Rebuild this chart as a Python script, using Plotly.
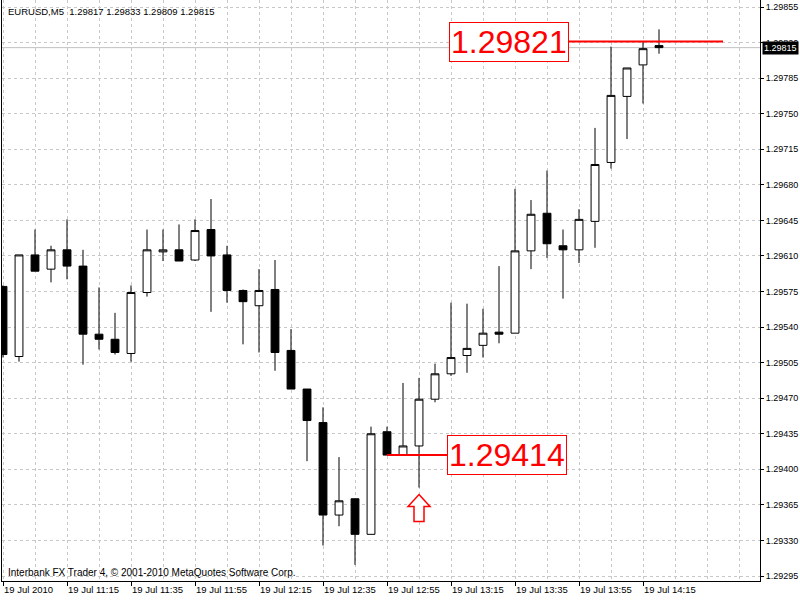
import plotly.graph_objects as go

# ---------- data (EURUSD M5, 19 Jul 2010) ----------
day = "2010-07-19 "
times = ["10:55", "11:00", "11:05", "11:10", "11:15", "11:20", "11:25", "11:30",
         "11:35", "11:40", "11:45", "11:50", "11:55", "12:00", "12:05", "12:10",
         "12:15", "12:20", "12:25", "12:30", "12:35", "12:40", "12:45", "12:50",
         "12:55", "13:00", "13:05", "13:10", "13:15", "13:20", "13:25", "13:30",
         "13:35", "13:40", "13:45", "13:50", "13:55", "14:00", "14:05", "14:10",
         "14:15", "14:20"]
opens = [1.29580, 1.29511, 1.29611, 1.29597, 1.29616, 1.29600, 1.29533, 1.29528,
         1.29514, 1.29574, 1.29614, 1.29616, 1.29606, 1.29636, 1.29611, 1.29576,
         1.29561, 1.29577, 1.29517, 1.29479, 1.29446, 1.29355, 1.29371, 1.29336,
         1.29437, 1.29414, 1.29423, 1.29469, 1.29494, 1.29512, 1.29522, 1.29535,
         1.29534, 1.29615, 1.29652, 1.29620, 1.29616, 1.29644, 1.29702, 1.29767,
         1.29798, 1.29817]
highs = [1.29581, 1.29611, 1.29636, 1.29620, 1.29646, 1.29616, 1.29579, 1.29554,
         1.29581, 1.29636, 1.29636, 1.29641, 1.29646, 1.29666, 1.29620, 1.29577,
         1.29597, 1.29606, 1.29538, 1.29479, 1.29461, 1.29412, 1.29371, 1.29442,
         1.29442, 1.29485, 1.29490, 1.29504, 1.29564, 1.29563, 1.29558, 1.29600,
         1.29676, 1.29665, 1.29694, 1.29636, 1.29656, 1.29736, 1.29816, 1.29795,
         1.29821, 1.29833]
lows = [1.29510, 1.29506, 1.29595, 1.29584, 1.29587, 1.29503, 1.29518, 1.29513,
        1.29506, 1.29570, 1.29605, 1.29605, 1.29605, 1.29555, 1.29564, 1.29523,
        1.29515, 1.29497, 1.29479, 1.29408, 1.29325, 1.29344, 1.29306, 1.29336,
        1.29414, 1.29414, 1.29382, 1.29466, 1.29492, 1.29495, 1.29510, 1.29524,
        1.29534, 1.29597, 1.29608, 1.29568, 1.29603, 1.29618, 1.29696, 1.29725,
        1.29760, 1.29809]
closes = [1.29513, 1.29611, 1.29595, 1.29616, 1.29600, 1.29533, 1.29528, 1.29515,
          1.29574, 1.29616, 1.29616, 1.29605, 1.29635, 1.29610, 1.29576, 1.29565,
          1.29576, 1.29515, 1.29479, 1.29448, 1.29355, 1.29369, 1.29336, 1.29435,
          1.29414, 1.29423, 1.29469, 1.29494, 1.29510, 1.29519, 1.29534, 1.29533,
          1.29615, 1.29651, 1.29622, 1.29616, 1.29646, 1.29700, 1.29768, 1.29795,
          1.29814, 1.29815]

price_ticks = [1.29295, 1.29330, 1.29365, 1.29400, 1.29435, 1.29470, 1.29505,
               1.29540, 1.29575, 1.29610, 1.29645, 1.29680, 1.29715, 1.29750,
               1.29785, 1.29820, 1.29855]
tick_times = ["10:55", "11:15", "11:35", "11:55", "12:15", "12:35", "12:55",
              "13:15", "13:35", "13:55", "14:15"]
tick_text = ["19 Jul 2010", "19 Jul 11:15", "19 Jul 11:35", "19 Jul 11:55",
             "19 Jul 12:15", "19 Jul 12:35", "19 Jul 12:55", "19 Jul 13:15",
             "19 Jul 13:35", "19 Jul 13:55", "19 Jul 14:15"]

symbol = "EURUSD,M5"
bid = 1.29815
high_level = 1.29821
low_level = 1.29414
arrow_time = "13:05"
arrow_price = 1.29382

FONT = "Liberation Sans"
GRID = "#c8c8c8"

x = [day + t for t in times]

fig = go.Figure(go.Candlestick(
    x=x, open=opens, high=highs, low=lows, close=closes,
    increasing=dict(fillcolor="white", line=dict(color="black", width=1)),
    decreasing=dict(fillcolor="black", line=dict(color="black", width=1)),
    whiskerwidth=0,
    hoverinfo="x+y",
))

# bid line (gray) and its black price tag
fig.add_shape(type="line", xref="paper", x0=0, x1=1, yref="y", y0=bid, y1=bid,
              line=dict(color="#c0c0c0", width=1), layer="below")
fig.add_annotation(xref="paper", x=1, xanchor="left", xshift=2, yref="y", y=bid,
                   text=f"{bid:.5f}", showarrow=False, bgcolor="black",
                   font=dict(family=FONT, size=9, color="white"), borderpad=1)

# red level lines with boxed labels
fig.add_shape(type="line", xref="x", yref="y",
              x0=day + "13:51:52", x1=day + "14:40", y0=high_level, y1=high_level,
              line=dict(color="red", width=2))
fig.add_annotation(xref="x", x=day + "13:51:52", xanchor="right", yref="y", y=high_level,
                   text=f"{high_level:.5f}", showarrow=False, bgcolor="white",
                   bordercolor="red", borderwidth=1, borderpad=1,
                   font=dict(family=FONT, size=32, color="red"))
fig.add_shape(type="line", xref="x", yref="y",
              x0=day + "12:55", x1=day + "13:13:45", y0=low_level, y1=low_level,
              line=dict(color="red", width=2))
fig.add_annotation(xref="x", x=day + "13:13:45", xanchor="left", yref="y", y=low_level,
                   text=f"{low_level:.5f}", showarrow=False, bgcolor="white",
                   bordercolor="red", borderwidth=1, borderpad=1,
                   font=dict(family=FONT, size=32, color="red"))

# hollow up arrow under the low
fig.add_shape(type="path", xref="x", yref="y", xsizemode="pixel", ysizemode="pixel",
              xanchor=day + arrow_time, yanchor=arrow_price,
              path="M0,-7 L11,-19 L5,-19 L5,-34 L-5,-34 L-5,-19 L-11,-19 Z",
              line=dict(color="red", width=1.5), fillcolor="white")

# header and copyright
fig.add_annotation(xref="paper", yref="paper", x=0, y=1, xanchor="left", yanchor="top",
                   xshift=4, yshift=-4, showarrow=False,
                   text=f"{symbol}\u00a0\u00a0{opens[-1]:.5f} {highs[-1]:.5f} "
                        f"{lows[-1]:.5f} {closes[-1]:.5f}",
                   font=dict(family=FONT, size=9.5, color="black"))
fig.add_annotation(xref="paper", yref="paper", x=0, y=0, xanchor="left", yanchor="bottom",
                   xshift=4, yshift=1, showarrow=False,
                   text="Interbank FX Trader 4, © 2001-2010 MetaQuotes Software Corp.",
                   font=dict(family=FONT, size=10, color="black"))

fig.update_layout(
    width=800, height=600,
    margin=dict(l=2, r=40, t=0, b=19, autoexpand=False),
    paper_bgcolor="white", plot_bgcolor="white",
    showlegend=False,
    font=dict(family=FONT, size=10, color="black"),
    xaxis=dict(
        type="date",
        range=[day + "10:54:41", day + "14:51:33.5"],
        tickmode="array", tickvals=[day + t for t in tick_times], ticktext=tick_text,
        tickfont=dict(size=9.5),
        ticks="outside", ticklen=4, tickcolor="black",
        ticklabelposition="outside right",
        showline=True, linecolor="black", linewidth=1,
        showgrid=True, gridcolor=GRID, griddash="3px,3px", gridwidth=1,
        minor=dict(tick0=day + "10:55", dtick=600000, showgrid=True,
                   gridcolor=GRID, griddash="3px,3px", ticks=""),
        rangeslider=dict(visible=False),
        zeroline=False, automargin=False,
    ),
    yaxis=dict(
        side="right",
        range=[1.2929008, 1.2986189],
        tickmode="array", tickvals=price_ticks, tickformat=".5f",
        tickfont=dict(size=9),
        ticks="outside", ticklen=3, tickcolor="black",
        showline=True, mirror=True, linecolor="black", linewidth=1,
        showgrid=True, gridcolor=GRID, griddash="3px,3px", gridwidth=1,
        zeroline=False, automargin=False,
    ),
)

# the page's default 8px body margin would push the 800x600 figure off-screen
fig.write_html("out.html", config={"displayModeBar": False},
               post_script="document.body.style.margin = '0';")
